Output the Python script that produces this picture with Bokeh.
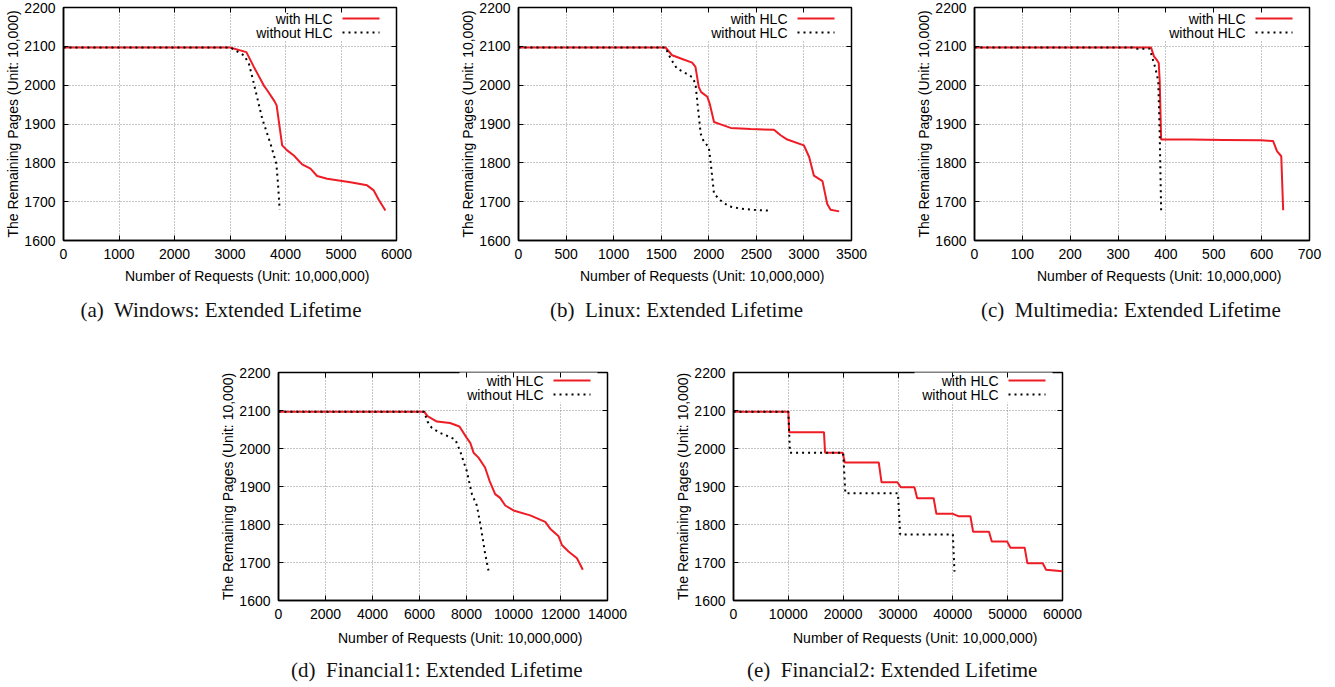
from bokeh.plotting import figure
from bokeh.layouts import row, column, Spacer
from bokeh.models import Range1d, FixedTicker, Label, Arrow, BoxAnnotation, LinearAxis, Title
from bokeh.embed import file_html
from bokeh.resources import INLINE

# ---------------- data ----------------
y_ticks = [1600, 1700, 1800, 1900, 2000, 2100, 2200]
series_names = ["with HLC", "without HLC"]

win_x_ticks = [0, 1000, 2000, 3000, 4000, 5000, 6000]
win_with_x = [0, 3000, 3295, 3430, 3610, 3670, 3800, 3840, 3940, 4030, 4150, 4300, 4450, 4570, 4750, 5170, 5470, 5590, 5680, 5800]
win_with_y = [2097, 2097, 2085, 2047, 1999, 1987, 1959, 1948, 1845, 1832, 1819, 1796, 1785, 1766, 1759, 1750, 1742, 1729, 1705, 1677]
win_without_x = [0, 3000, 3070, 3250, 3340, 3430, 3580, 3730, 3835, 3865, 3895]
win_without_y = [2097, 2097, 2092, 2077, 2056, 2004, 1914, 1849, 1798, 1746, 1679]

lin_x_ticks = [0, 500, 1000, 1500, 2000, 2500, 3000, 3500]
lin_with_x = [0, 1545, 1615, 1735, 1825, 1860, 1895, 1920, 1985, 2010, 2055, 2125, 2230, 2440, 2685, 2755, 2825, 3000, 3055, 3105, 3195, 3245, 3280, 3370]
lin_with_y = [2097, 2097, 2077, 2066, 2058, 2047, 1995, 1982, 1970, 1952, 1905, 1899, 1890, 1887, 1885, 1871, 1860, 1845, 1815, 1767, 1753, 1694, 1679, 1675]
lin_without_x = [0, 1545, 1600, 1665, 1735, 1825, 1860, 1885, 1915, 1950, 2000, 2025, 2055, 2125, 2210, 2335, 2475, 2630]
lin_without_y = [2097, 2097, 2068, 2043, 2034, 2021, 2004, 1944, 1875, 1853, 1841, 1789, 1720, 1703, 1688, 1682, 1679, 1677]

mm_x_ticks = [0, 100, 200, 300, 400, 500, 600, 700]
mm_with_x = [0, 369, 375, 382, 385, 387, 390, 451, 521, 598, 624, 632, 641, 645]
mm_with_y = [2097, 2097, 2074, 2063, 2057, 2010, 1860, 1860, 1859, 1858, 1856, 1830, 1817, 1678]
mm_without_x = [0, 330, 340, 366, 378, 384, 387, 390]
mm_without_y = [2097, 2097, 2094, 2094, 2044, 2010, 1873, 1678]

fin1_x_ticks = [0, 2000, 4000, 6000, 8000, 10000, 12000, 14000]
fin1_with_x = [0, 6200, 6340, 6740, 7300, 7700, 8010, 8160, 8300, 8510, 8790, 8980, 9220, 9430, 9650, 10000, 10710, 11350, 11560, 11920, 12060, 12340, 12700, 12950]
fin1_with_y = [2097, 2097, 2085, 2071, 2067, 2058, 2028, 2015, 1989, 1976, 1950, 1915, 1880, 1870, 1850, 1837, 1824, 1807, 1789, 1769, 1746, 1729, 1711, 1681]
fin1_without_x = [0, 6200, 6340, 6525, 6880, 7520, 7730, 8010, 8230, 8440, 8610, 8790, 8935]
fin1_without_y = [2097, 2097, 2071, 2054, 2041, 2024, 1993, 1941, 1880, 1850, 1794, 1724, 1679]

fin2_x_ticks = [0, 10000, 20000, 30000, 40000, 50000, 60000]
fin2_with_x = [0, 10000, 10150, 16500, 16700, 19900, 20300, 26500, 27000, 29900, 30500, 33000, 33500, 36500, 37000, 40000, 41000, 43200, 43700, 46600, 47100, 49900, 50500, 53100, 53600, 56400, 57000, 60000]
fin2_with_y = [2097, 2097, 2043, 2043, 1989, 1989, 1963, 1963, 1911, 1911, 1898, 1898, 1869, 1869, 1828, 1828, 1822, 1822, 1781, 1781, 1755, 1755, 1739, 1739, 1698, 1698, 1681, 1677]
fin2_without_x = [0, 10000, 10300, 20000, 20400, 30000, 30400, 40000, 40300]
fin2_without_y = [2097, 2097, 1989, 1989, 1882, 1882, 1774, 1774, 1676]

captions = [
    "(a)\u00a0 Windows: Extended Lifetime",
    "(b)\u00a0 Linux: Extended Lifetime",
    "(c)\u00a0 Multimedia: Extended Lifetime",
    "(d)\u00a0 Financial1: Extended Lifetime",
    "(e)\u00a0 Financial2: Extended Lifetime",
]
x_title = "Number of Requests (Unit: 10,000,000)"
y_title = "The Remaining Pages (Unit: 10,000)"

SANS = "Liberation Sans"
SERIF = "Liberation Serif"
RED = "#ee1c25"
XTITLE_W = 244          # approx. rendered width of the x title (px)


def panel(xt, wx, wy, ox, oy, caption, width, height, right, top, bottom,
          cap_dx, cap_w, xt_standoff, cap_standoff):
    left = 63
    fw = width - left - right
    fh = height - top - bottom
    p = figure(width=width, height=height,
               x_range=Range1d(xt[0], xt[-1]), y_range=Range1d(y_ticks[0], y_ticks[-1]),
               output_backend="svg", toolbar_location=None, tools="",
               min_border_left=left, min_border_right=right,
               min_border_top=top, min_border_bottom=bottom)
    p.background_fill_color = "white"
    p.border_fill_color = "white"
    p.outline_line_color = "black"
    p.outline_line_width = 1.5

    for ax in (p.xaxis[0], p.yaxis[0]):
        ax.major_tick_in = 5
        ax.major_tick_out = 0
        ax.minor_tick_line_color = None
        ax.axis_line_color = "black"
        ax.axis_line_width = 1.5
        ax.major_tick_line_color = "black"
        ax.major_label_text_font = SANS
        ax.major_label_text_font_size = "14px"
        ax.major_label_text_color = "black"
    p.xaxis.ticker = FixedTicker(ticks=xt)
    p.yaxis.ticker = FixedTicker(ticks=y_ticks)
    p.xaxis.major_label_standoff = 8
    p.yaxis.major_label_standoff = 8
    p.yaxis.axis_label = y_title
    p.yaxis.axis_label_text_font = SANS
    p.yaxis.axis_label_text_font_size = "14px"
    p.yaxis.axis_label_text_font_style = "normal"
    p.yaxis.axis_label_text_color = "black"
    p.yaxis.axis_label_standoff = 0

    # mirrored inward ticks on right and top (no labels)
    r_ax = LinearAxis(ticker=FixedTicker(ticks=y_ticks), major_tick_in=5, major_tick_out=0,
                      minor_tick_line_color=None, axis_line_color=None, major_label_standoff=0,
                      major_label_overrides={t: "" for t in y_ticks})
    t_ax = LinearAxis(ticker=FixedTicker(ticks=xt), major_tick_in=5, major_tick_out=0,
                      minor_tick_line_color=None, axis_line_color=None, major_label_standoff=0,
                      major_label_overrides={t: "" for t in xt})
    p.add_layout(r_ax, "right")
    p.add_layout(t_ax, "above")

    p.xgrid[0].ticker = FixedTicker(ticks=xt)
    p.ygrid[0].ticker = FixedTicker(ticks=y_ticks)
    for g in (p.xgrid[0], p.ygrid[0]):
        g.grid_line_color = "#8c8c8c"
        g.grid_line_dash = "1 2"
        g.grid_line_width = 1

    # opaque key box
    p.add_layout(BoxAnnotation(left=fw - 148, right=fw - 10, top=fh - 2, bottom=fh - 33,
                               left_units="screen", right_units="screen",
                               top_units="screen", bottom_units="screen",
                               fill_color="white", fill_alpha=1.0, line_color=None,
                               level="underlay"))

    p.line(wx, wy, line_color=RED, line_width=2)
    p.line(ox, oy, line_color="black", line_width=2, line_dash="2 4")

    # key (text left of sample, as in the original)
    for i, (name, col, dash) in enumerate(zip(series_names, [RED, "black"], ["solid", "2 4"])):
        yy = fh - 11 - 14 * i
        p.add_layout(Label(x=fw - 64, y=yy, x_units="screen", y_units="screen", text=name,
                           text_align="right", text_baseline="middle", text_font=SANS,
                           text_font_size="14px", text_color="black"))
        p.add_layout(Arrow(end=None, x_start=fw - 54, x_end=fw - 17, y_start=yy, y_end=yy,
                           start_units="screen", end_units="screen",
                           line_color=col, line_width=2, line_dash=dash))

    p.add_layout(Title(text=x_title, align="left", offset=fw / 2 + 17 - XTITLE_W / 2,
                       standoff=xt_standoff,
                       text_font=SANS, text_font_size="14px", text_font_style="normal",
                       text_color="black", vertical_align="middle"), "below")
    p.add_layout(Title(text=caption, align="left", offset=fw / 2 + cap_dx - cap_w / 2,
                       standoff=cap_standoff,
                       text_font=SERIF, text_font_size="21px", text_font_style="normal",
                       text_color="#111111", vertical_align="middle"), "below")
    return p


pa = panel(win_x_ticks, win_with_x, win_with_y, win_without_x, win_without_y, captions[0],
           455, 340, 59, 7, 100, -8.5, 282, 11, 12)
pb = panel(lin_x_ticks, lin_with_x, lin_with_y, lin_without_x, lin_without_y, captions[1],
           456, 340, 60, 7, 100, -8.5, 253, 11, 12)
pc = panel(mm_x_ticks, mm_with_x, mm_with_y, mm_without_x, mm_without_y, captions[2],
           422, 340, 24, 7, 100, -11, 300, 11, 12)
pd = panel(fin1_x_ticks, fin1_with_x, fin1_with_y, fin1_without_x, fin1_without_y, captions[3],
           455, 346, 63, 32, 83, -6, 292, 14, 7)
pe = panel(fin2_x_ticks, fin2_with_x, fin2_with_y, fin2_without_x, fin2_without_y, captions[4],
           452, 346, 60, 32, 83, -6, 290, 14, 7)

layout = column(row(pa, pb, pc), row(Spacer(width=215, height=346), pd, pe))
open("out.html", "w").write(file_html(layout, INLINE))
